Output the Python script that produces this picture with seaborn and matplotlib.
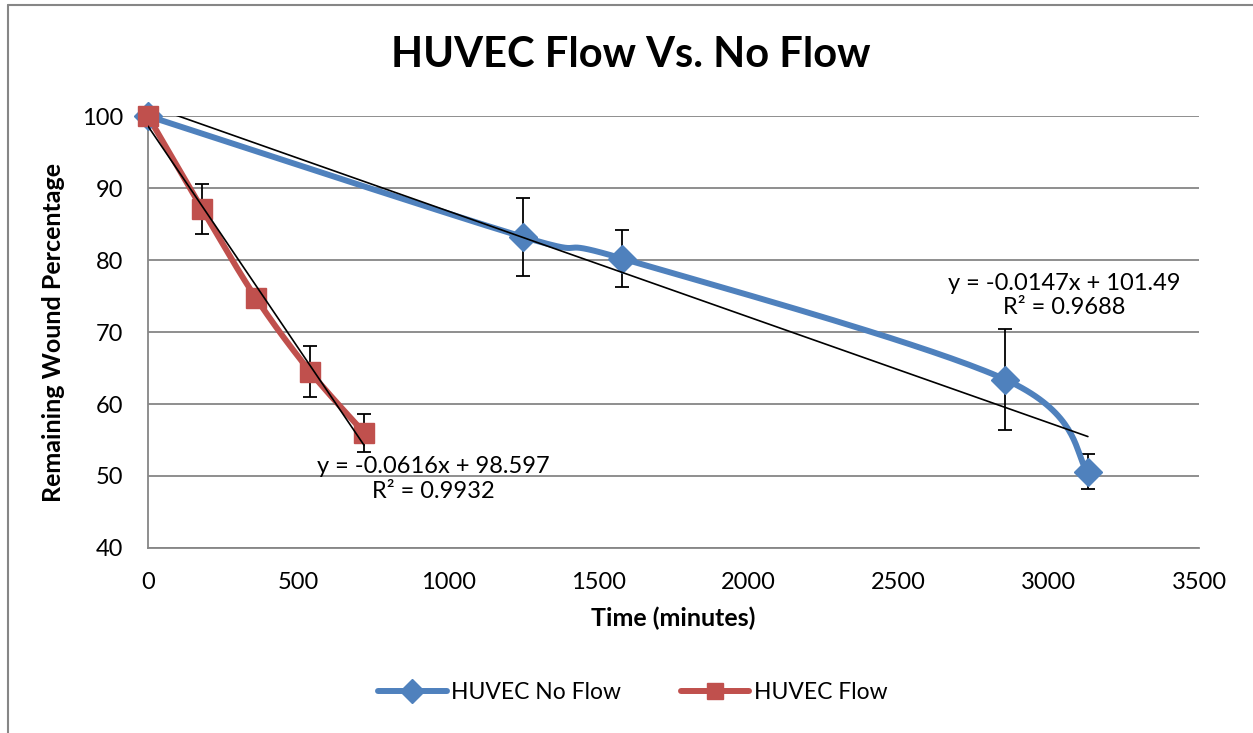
import numpy as np
import pandas as pd
import seaborn as sns
import matplotlib.pyplot as plt
from matplotlib.lines import Line2D

# data
no_flow_time = [0, 1250, 1580, 2855, 3130]
no_flow_pct = [100, 83.2, 80.2, 63.4, 50.6]
no_flow_err = [0, 5.4, 4.0, 7.0, 2.4]

flow_time = [0, 180, 360, 540, 720]
flow_pct = [100, 87.1, 74.7, 64.5, 56.0]
flow_err = [0, 3.5, 1.0, 3.5, 2.6]

no_flow_fit = (-0.0147, 101.49)
flow_fit = (-0.0616, 98.597)
no_flow_label = 'y = -0.0147x + 101.49\nR² = 0.9688'
flow_label = 'y = -0.0616x + 98.597\nR² = 0.9932'

BLUE = '#4F81BD'
RED = '#C0504D'
GRID = '#868686'


def smooth(xs, ys, xr, yr, n=40):
    '''excel style smoothed line (bezier through the points)'''
    p = np.column_stack([np.array(xs) / xr, np.array(ys) / yr])
    p = np.vstack([p[0], p, p[-1]])
    out = []
    for i in range(1, len(p) - 2):
        a, b = p[i], p[i + 1]
        c1 = a + (p[i + 1] - p[i - 1]) / 6
        c2 = b - (p[i + 2] - p[i]) / 6
        t = np.linspace(0, 1, n)[:, None]
        out.append((1 - t) ** 3 * a + 3 * (1 - t) ** 2 * t * c1 + 3 * (1 - t) * t ** 2 * c2 + t ** 3 * b)
    out = np.vstack(out)
    return pd.DataFrame({'x': out[:, 0] * xr, 'y': out[:, 1] * yr})


sns.set_theme(style='white')
plt.rcParams['font.family'] = ['Lato', 'DejaVu Sans']
plt.rcParams['text.color'] = 'black'
plt.rcParams['axes.labelcolor'] = 'black'

fig = plt.figure(figsize=(12.53, 7.33), dpi=100)
ax = fig.add_axes([0.1181, 0.2524, 0.8388, 0.5893])

XR, YR = 3500 / 1051, 60 / 432

for xs, ys, err, fit, col, mk, ms in [
    (no_flow_time, no_flow_pct, no_flow_err, no_flow_fit, BLUE, 'D', 14),
    (flow_time, flow_pct, flow_err, flow_fit, RED, 's', 15),
]:
    sm = smooth(xs, ys, XR, YR)
    sns.lineplot(data=sm, x='x', y='y', ax=ax, color=col, lw=4.3, sort=False,
                 estimator=None, zorder=3, clip_on=False)
    ax.errorbar(xs, ys, yerr=err, fmt='none', ecolor='black', elinewidth=1.3,
                capsize=5, capthick=1.3, zorder=2)
    ax.plot(xs, ys, ls='none', marker=mk, ms=ms, color=col, zorder=4, clip_on=False)
    tx = np.array([xs[0], xs[-1]])
    ax.plot(tx, fit[0] * tx + fit[1], color='black', lw=1.2, zorder=5)

ax.text(949, 49.6, flow_label, ha='center', va='center', fontsize=17,
        linespacing=1.2, zorder=6)
ax.text(3050, 75.05, no_flow_label, ha='center', va='center', fontsize=17,
        linespacing=1.2, zorder=6)

ax.set_xlim(0, 3500)
ax.set_ylim(40, 100)
ax.set_xticks(range(0, 3501, 500))
ax.set_yticks(range(40, 101, 10))
ax.grid(axis='y', color=GRID, lw=1.3)
ax.grid(axis='x', visible=False)
ax.set_axisbelow(True)
for s in ['top', 'right']:
    ax.spines[s].set_visible(False)
for s in ['left', 'bottom']:
    ax.spines[s].set_color(GRID)
    ax.spines[s].set_linewidth(1.3)
ax.tick_params(axis='both', direction='out', length=6, width=1.3, color=GRID,
               labelsize=17, labelcolor='black')
ax.tick_params(axis='y', pad=12)
ax.tick_params(axis='x', pad=11)

ax.set_xlabel('Time (minutes)', fontsize=18, fontweight='bold', labelpad=10)
ax.set_ylabel('Remaining Wound Percentage', fontsize=18, fontweight='bold', labelpad=12)
fig.text(0.503, 0.925, 'HUVEC Flow Vs. No Flow', ha='center', va='center',
         fontsize=30, fontweight='bold', color='black')

handles = [
    Line2D([], [], color=BLUE, lw=4.3, marker='D', ms=12),
    Line2D([], [], color=RED, lw=4.3, marker='s', ms=12),
]
fig.legend(handles, ['HUVEC No Flow', 'HUVEC Flow'], loc='center',
           bbox_to_anchor=(0.505, 0.055), ncol=2, frameon=False, fontsize=16.5,
           handlelength=3.0, columnspacing=2.6, handletextpad=0.2,
           labelcolor='black')

# outer chart border (top and left edges visible in the screenshot)
fig.add_artist(Line2D([8 / 1253, 1], [1 - 5 / 733] * 2, color=GRID, lw=1.5))
fig.add_artist(Line2D([8 / 1253] * 2, [0, 1 - 5 / 733], color=GRID, lw=1.5))

fig.savefig('out.png', dpi=100)
